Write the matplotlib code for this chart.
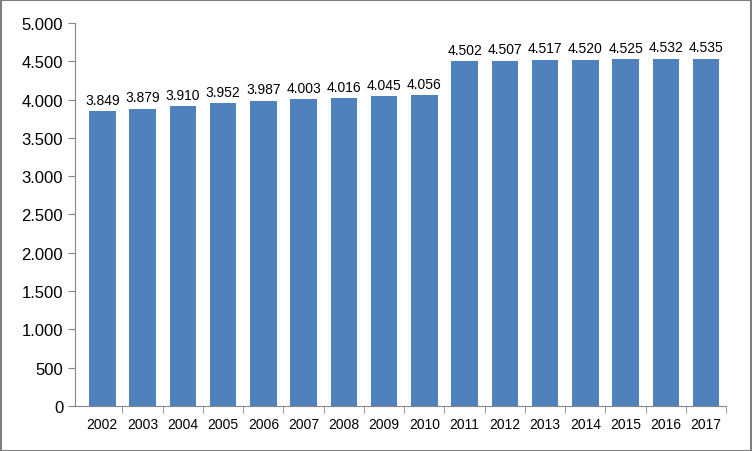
import matplotlib.pyplot as plt
from matplotlib.ticker import FuncFormatter

years = [str(y) for y in range(2002, 2018)]
values = [3849, 3879, 3910, 3952, 3987, 4003, 4016, 4045, 4056,
          4502, 4507, 4517, 4520, 4525, 4532, 4535]
yticks = list(range(0, 5001, 500))

plt.rc('font', family='Liberation Sans')

def dotfmt(v, pos=None):
    return '{:,.0f}'.format(v).replace(',', '.')

fig = plt.figure(figsize=(7.52, 4.52), dpi=100)
fig.patches.append(plt.Rectangle((0.001, 0.001), 0.998, 0.997, transform=fig.transFigure,
                                 fill=False, edgecolor='#7f7f7f', linewidth=1.5))
ax = fig.add_axes([0.0997, 0.0996, 0.866, 0.8474])

x = range(len(years))
ax.bar(x, values, width=0.66, color='#4F81BD')
for i, v in zip(x, values):
    ax.text(i, v + 60, dotfmt(v), ha='center', va='bottom', fontsize=10)

ax.set_xlim(-0.68, len(years) - 0.5)
ax.set_ylim(0, 5000)
ax.set_yticks(yticks)
ax.yaxis.set_major_formatter(FuncFormatter(dotfmt))
ax.set_xticks(list(x))
ax.set_xticklabels(years)
ax.set_xticks([i - 0.5 for i in range(1, len(years) + 1)], minor=True)
ax.tick_params(axis='x', which='major', length=0, labelsize=10, pad=8)
ax.tick_params(axis='x', which='minor', length=5, color='#868686')
ax.tick_params(axis='y', length=5, color='#868686', labelsize=12)

for s in ['top', 'right']:
    ax.spines[s].set_visible(False)
for s in ['left', 'bottom']:
    ax.spines[s].set_color('#868686')

fig.savefig('out.png', dpi=100)
